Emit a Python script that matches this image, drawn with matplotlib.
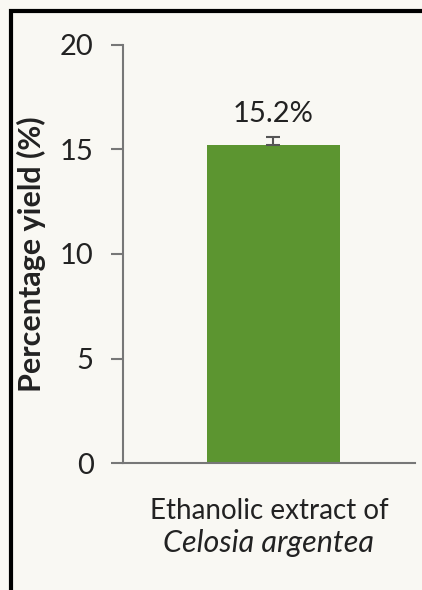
import matplotlib.pyplot as plt
import matplotlib.patches as patches

plt.rcParams['font.family'] = ['Lato', 'DejaVu Sans']

category_line1 = 'Ethanolic extract of'
category_line2 = 'Celosia argentea'
yields = [15.2]
errors = [0.4]
yticks = [0, 5, 10, 15, 20]

bg = '#f9f8f3'
fig = plt.figure(figsize=(4.22, 5.9), dpi=100, facecolor=bg)
ax = fig.add_axes([0.291, 0.215, 0.692, 0.709])
ax.set_facecolor(bg)

ax.bar([0], yields, width=0.6, color='#5c9530', zorder=2)
ax.errorbar([0], yields, yerr=[[0], errors], fmt='none', ecolor='#555555',
            elinewidth=1.5, capsize=5, capthick=1.5, zorder=3)

for v, e in zip(yields, errors):
    ax.annotate(f'{v}%', (0, v + e), xytext=(0, 7), textcoords='offset points',
                ha='center', va='bottom', fontsize=21, color='#222222')

ax.set_xlim(-0.679, 0.638)
ax.set_ylim(0, 20)
ax.set_yticks(yticks)
ax.set_xticks([])
ax.tick_params(axis='y', length=9, width=1.5, color='#777777', labelsize=21,
               labelcolor='#222222', pad=12)

# category label, second line in italics
ax.text(-0.02, -0.115, category_line1, transform=ax.get_xaxis_transform(),
        ha='center', va='center', fontsize=20, color='#222222')
ax.text(-0.02, -0.19, category_line2, transform=ax.get_xaxis_transform(),
        ha='center', va='center', fontsize=22, style='italic', color='#222222')

for s in ['top', 'right']:
    ax.spines[s].set_visible(False)
for s in ['left', 'bottom']:
    ax.spines[s].set_color('#777777')
    ax.spines[s].set_linewidth(1.5)

ax.set_ylabel('Percentage yield (%)', fontsize=22, fontweight='bold',
              color='#222222', labelpad=10)

# black frame around the figure, cut off at right and bottom
frame = patches.Rectangle((11 / 422, -0.1), 1.2, (590 - 11) / 590 + 0.1,
                          transform=fig.transFigure, fill=False,
                          edgecolor='black', linewidth=3)
fig.patches.append(frame)

plt.savefig('out.png', dpi=100, facecolor=bg)
